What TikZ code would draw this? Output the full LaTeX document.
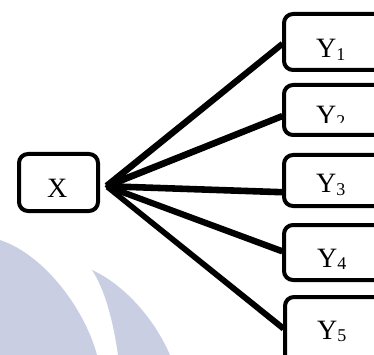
\documentclass[tikz,border=0pt]{standalone}
\usepackage{fontspec}
\setmainfont{Liberation Serif}
\definecolor{wm}{RGB}{201,206,227}
\definecolor{shade}{RGB}{140,140,140}
\tikzset{
  box/.style={draw=black, line width=4pt, rounded corners=9pt, inner sep=0pt, fill=white},
  lbl/.style={inner sep=0pt, anchor=base west},
  conn/.style={line width=4.2pt, black},
  connshadow/.style={line width=4pt, shade},
}
\newcommand{\bigtxt}{\fontsize{28pt}{30pt}\selectfont}
\newcommand{\subidx}[1]{\raisebox{-2.5pt}{\fontsize{18pt}{19pt}\selectfont #1}}
\begin{document}
\begin{tikzpicture}[x=1pt, y=-1pt]
\useasboundingbox (0,0) rectangle (374,355);
% watermark
\fill[wm] (0,240) .. controls (45,255) and (85,310) .. (97,355) -- (0,355) -- cycle;
\fill[wm] (92,270) .. controls (125,285) and (155,320) .. (170,355) -- (118,355) .. controls (113,320) and (105,290) .. (92,270) -- cycle;
% boxes
\node[box, minimum width=79pt, minimum height=57pt] (X) at (58.5,182.5) {};
\node[box, minimum width=116pt, minimum height=56pt] (Y1) at (342,42) {};
\node[box, minimum width=116pt, minimum height=50pt] (Y2) at (342,110) {};
\node[box, minimum width=116pt, minimum height=51pt] (Y3) at (342,180.5) {};
\node[box, minimum width=116pt, minimum height=55pt] (Y4) at (342,252.5) {};
\node[box, minimum width=115pt, minimum height=80pt] (Y5) at (342.5,337) {};
% labels
\node[lbl] (tX) at (47,197) {\bigtxt X};
\node[lbl] (t1) at (316,58) {\bigtxt Y\subidx{1}};
\begin{scope}
\clip (290,88) rectangle (372,123);
\node[lbl] (t2) at (316,125) {\bigtxt Y\subidx{2}};
\end{scope}
\begin{scope}
\clip (290,158) rectangle (372,195.5);
\node[lbl] (t3) at (316,193) {\bigtxt Y\subidx{3}};
\end{scope}
\node[lbl] (t4) at (317,267) {\bigtxt Y\subidx{4}};
\node[lbl] (t5) at (317,339) {\bigtxt Y\subidx{5}};
% connectors
\coordinate (s) at ([xshift=6pt,yshift=-2.5pt]X.east);
\coordinate (e1) at ([yshift=-1pt]Y1.west);
\coordinate (e2) at ([yshift=-5pt]Y2.west);
\coordinate (e3) at ([yshift=-10.5pt]Y3.west);
\coordinate (e4) at ([yshift=2.5pt]Y4.west);
\coordinate (e5) at ([yshift=10pt]Y5.west);
\foreach \e in {e1,e2,e3,e4,e5}{
  \draw[connshadow] ([shift={(1pt,-2.5pt)}]s) -- ([shift={(0pt,-2.5pt)}]\e);
}
\foreach \e in {e1,e2,e3,e4,e5}{
  \draw[conn] (s) -- (\e);
}
\end{tikzpicture}
\end{document}
